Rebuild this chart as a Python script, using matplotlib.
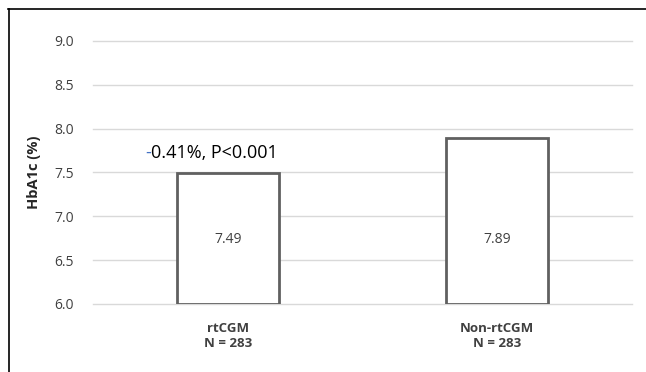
import matplotlib
matplotlib.use("Agg")
import matplotlib.pyplot as plt
from matplotlib.lines import Line2D

# data
groups = ["rtCGM\nN = 283", "Non-rtCGM\nN = 283"]
hba1c = [7.49, 7.89]
yticks = [6.0, 6.5, 7.0, 7.5, 8.0, 8.5, 9.0]
note = "0.41%, P<0.001"

plt.rcParams['font.family'] = ['Open Sans', 'DejaVu Sans']

fig = plt.figure(figsize=(6.46, 3.72), dpi=100)
ax = fig.add_axes([0.144, 0.183, 0.834, 0.707])

xs = [0, 1]
ax.bar(xs, [v - 6.0 for v in hba1c], bottom=6.0, width=0.38,
       facecolor='white', edgecolor='#606060', linewidth=2, zorder=3)

for x, v in zip(xs, hba1c):
	ax.text(x, 6.73, "%.2f" % v, ha='center', va='center', fontsize=10,
	        color='#404040', zorder=4)

# annotation above first bar, minus sign in blue
ax.text(-0.285, 7.72, note, ha='left', va='center', fontsize=13, color='black')
ax.text(-0.285, 7.72, "-", ha='right', va='center', fontsize=13, color='#4472c4')

ax.set_xlim(-0.5, 1.5)
ax.set_ylim(6.0, 9.0)
ax.set_yticks(yticks)
ax.set_yticklabels(["%.1f" % t for t in yticks], fontsize=10, color='#404040')
ax.set_xticks(xs)
ax.set_xticklabels(groups, fontsize=9.5, fontweight='bold', color='#404040', linespacing=1.25)
ax.tick_params(length=0, pad=14, axis='y')
ax.tick_params(length=0, pad=13, axis='x')
ax.yaxis.grid(True, color='#d9d9d9', linewidth=1, zorder=0)
ax.set_axisbelow(True)
for s in ax.spines.values():
	s.set_visible(False)
ax.set_ylabel("HbA1c (%)", fontsize=10.5, fontweight='bold', labelpad=9, color='#262626')
for l in ax.get_ygridlines():
	l.set_clip_on(False)

# outer frame: top and left only
fig.add_artist(Line2D([8/646, 1.0], [1 - 8.5/372, 1 - 8.5/372], color='black', linewidth=1.2))
fig.add_artist(Line2D([8.5/646, 8.5/646], [0, 1 - 8.5/372], color='black', linewidth=1.2))

fig.savefig("out.png", dpi=100)
